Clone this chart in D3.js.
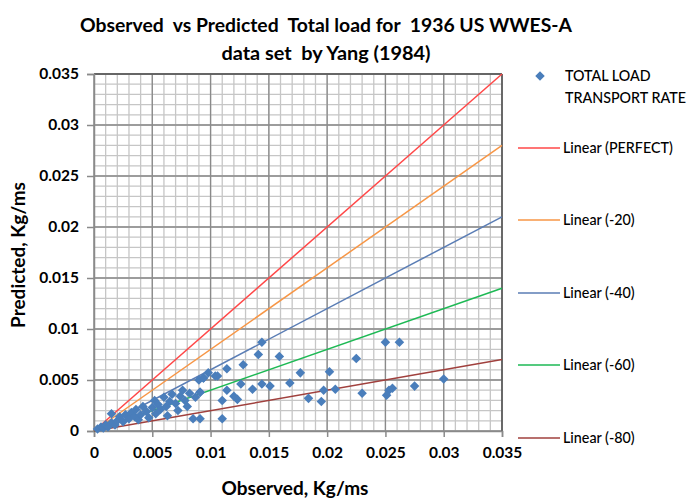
<!DOCTYPE html>
<html><head><meta charset="utf-8">
<script src="https://cdn.jsdelivr.net/npm/d3@7"></script>
<style>body{margin:0;background:#fff}svg{display:block}text{font-family:Lato,"Open Sans",sans-serif;white-space:pre}</style>
</head><body><svg id="c" width="691" height="500"></svg>
<script>
const titleLines = ["Observed  vs Predicted  Total load for  1936 US WWES-A", "data set  by Yang (1984)"];
const xTitle = "Observed, Kg/ms";
const yTitle = "Predicted, Kg/ms";
const tickLabels = ["0","0.005","0.01","0.015","0.02","0.025","0.03","0.035"];
const tickValues = [0,0.005,0.01,0.015,0.02,0.025,0.03,0.035];
const observed = [0.0003,0.0006,0.0008,0.001,0.0012,0.0015,0.0015,0.0018,0.002,0.0022,0.0025,0.0027,0.003,0.0032,0.0035,0.0036,0.0038,0.004,0.0042,0.0045,0.0047,0.005,0.0052,0.0053,0.0055,0.0057,0.006,0.0062,0.0063,0.0065,0.0067,0.007,0.0072,0.0074,0.0076,0.0078,0.008,0.0082,0.0085,0.0087,0.009,0.0091,0.0094,0.0091,
0.00938,0.0098,0.0104,0.0106,0.0114,0.0110,0.0110,0.0120,0.0123,0.0114,0.0126,0.0128,0.0136,0.0141,0.0144,0.0144,0.0151,0.0159,0.0168,0.0177,0.0184,0.0195,0.0197,0.0202,0.0207,0.0225,0.0230,0.0250,0.0253,0.0256,0.0251,0.0262,0.0275,0.0300,0.0091];
const predicted = [0.0002,0.0004,0.0003,0.0006,0.0004,0.0017,0.0008,0.0006,0.0010,0.0014,0.0009,0.0016,0.0012,0.0018,0.0014,0.0021,0.0011,0.0016,0.0024,0.0019,0.0013,0.0023,0.0030,0.0017,0.0026,0.0021,0.0033,0.0024,0.0015,0.0029,0.0036,0.0027,0.0020,0.0034,0.0040,0.0030,0.0024,0.0037,0.0012,0.0033,0.0050,0.0038,0.0052,0.0012,
0.0052,0.0057,0.0054,0.0054,0.0061,0.0030,0.0012,0.0034,0.0031,0.0040,0.0046,0.0065,0.0041,0.0075,0.0087,0.0046,0.0044,0.0073,0.0047,0.0057,0.0032,0.0029,0.0040,0.0058,0.0041,0.0071,0.0037,0.0087,0.0040,0.0042,0.0035,0.0087,0.0044,0.0051,0.0038];
const trendNames = ["Linear (PERFECT)","Linear (-20)","Linear (-40)","Linear (-60)","Linear (-80)"];
const trendSlopes = [1,0.8,0.6,0.4,0.2];
const seriesName = ["TOTAL LOAD","TRANSPORT RATE"];

const trendColors = ["#FF4747","#F79646","#5A7DB5","#1DB954","#A0403D"];
const pointColor = "#4A7EBB";

const svg = d3.select("#c");
const L=94, R=502, T=74, B=431;
const x = d3.scaleLinear().domain([0,0.035]).range([L,R]);
const y = d3.scaleLinear().domain([0,0.035]).range([B,T]);
const minor = d3.range(0,36).map(i=>i*0.001);

const g = svg.append("g");
g.selectAll(".vmin").data(minor).join("line").attr("x1",d=>x(d)).attr("x2",d=>x(d)).attr("y1",T).attr("y2",B).attr("stroke","#c6c6c6").attr("stroke-width",1.3);
g.selectAll(".hmin").data(minor).join("line").attr("y1",d=>y(d)).attr("y2",d=>y(d)).attr("x1",L).attr("x2",R).attr("stroke","#c6c6c6").attr("stroke-width",1.3);
g.selectAll(".vmaj").data(tickValues).join("line").attr("x1",d=>x(d)).attr("x2",d=>x(d)).attr("y1",T).attr("y2",B).attr("stroke","#8a8a8a").attr("stroke-width",1.3);
g.selectAll(".hmaj").data(tickValues).join("line").attr("y1",d=>y(d)).attr("y2",d=>y(d)).attr("x1",L).attr("x2",R).attr("stroke","#8a8a8a").attr("stroke-width",1.3);
svg.append("line").attr("x1",L).attr("x2",R).attr("y1",T).attr("y2",T).attr("stroke","#555").attr("stroke-width",1.5);
svg.append("line").attr("x1",R).attr("x2",R).attr("y1",T).attr("y2",B).attr("stroke","#555").attr("stroke-width",1.5);

const xAxis = d3.axisBottom(x).tickValues(tickValues).tickFormat((d,i)=>tickLabels[i]).tickSize(6).tickPadding(10);
const yAxis = d3.axisLeft(y).tickValues(tickValues).tickFormat((d,i)=>tickLabels[i]).tickSize(7).tickPadding(8);
const gx = svg.append("g").attr("transform",`translate(0,${B})`).call(xAxis);
const gy = svg.append("g").attr("transform",`translate(${L},0)`).call(yAxis);
[gx,gy].forEach(a=>{
  a.select(".domain").attr("stroke","#8a8a8a").attr("stroke-width",1.5);
  a.selectAll(".tick line").attr("stroke","#8a8a8a").attr("stroke-width",1.5);
  a.selectAll(".tick text").attr("font-family","Lato").attr("font-weight","bold").attr("font-size",15.5).attr("fill","#000");
});

svg.append("g").selectAll("line").data(trendSlopes).join("line")
 .attr("x1",x(0)).attr("y1",y(0)).attr("x2",x(0.035)).attr("y2",d=>y(0.035*d))
 .attr("stroke",(d,i)=>trendColors[i]).attr("stroke-width",1.5);

const diamond = d3.symbol().type(d3.symbolDiamond2).size(58);
svg.append("g").selectAll("path").data(observed).join("path")
 .attr("transform",(d,i)=>`translate(${x(d)},${y(predicted[i])})`)
 .attr("d",diamond).attr("fill",pointColor);

const titleWidths = [492, 209];
svg.append("g").selectAll("text").data(titleLines).join("text")
 .attr("x",326).attr("y",(d,i)=>32+i*28).attr("text-anchor","middle")
 .attr("textLength",(d,i)=>titleWidths[i]).attr("lengthAdjust","spacingAndGlyphs")
 .attr("font-weight","bold").attr("font-size",18.5).attr("fill","#000").text(d=>d);

svg.append("text").attr("x",295).attr("y",495).attr("text-anchor","middle").attr("font-weight","bold").attr("font-size",19).text(xTitle);
svg.append("text").attr("transform","translate(25,255) rotate(-90)").attr("text-anchor","middle").attr("font-weight","bold").attr("font-size",19).text(yTitle);

const lg = svg.append("g");
lg.append("path").attr("transform","translate(540,76)").attr("d",diamond).attr("fill",pointColor);
lg.selectAll(".sn").data(seriesName).join("text").attr("x",565).attr("y",(d,i)=>81+i*22).attr("font-size",14.3).attr("font-weight",500).attr("fill","#000").text(d=>d);
const ly = [148,220,293,365,438];
trendNames.forEach((n,i)=>{
  lg.append("line").attr("x1",518).attr("x2",560).attr("y1",ly[i]).attr("y2",ly[i]).attr("stroke",trendColors[i]).attr("stroke-width",1.5);
  lg.append("text").attr("x",563).attr("y",ly[i]+5).attr("font-size",14.3).attr("font-weight",500).attr("fill","#000").text(n);
});
</script></body></html>
